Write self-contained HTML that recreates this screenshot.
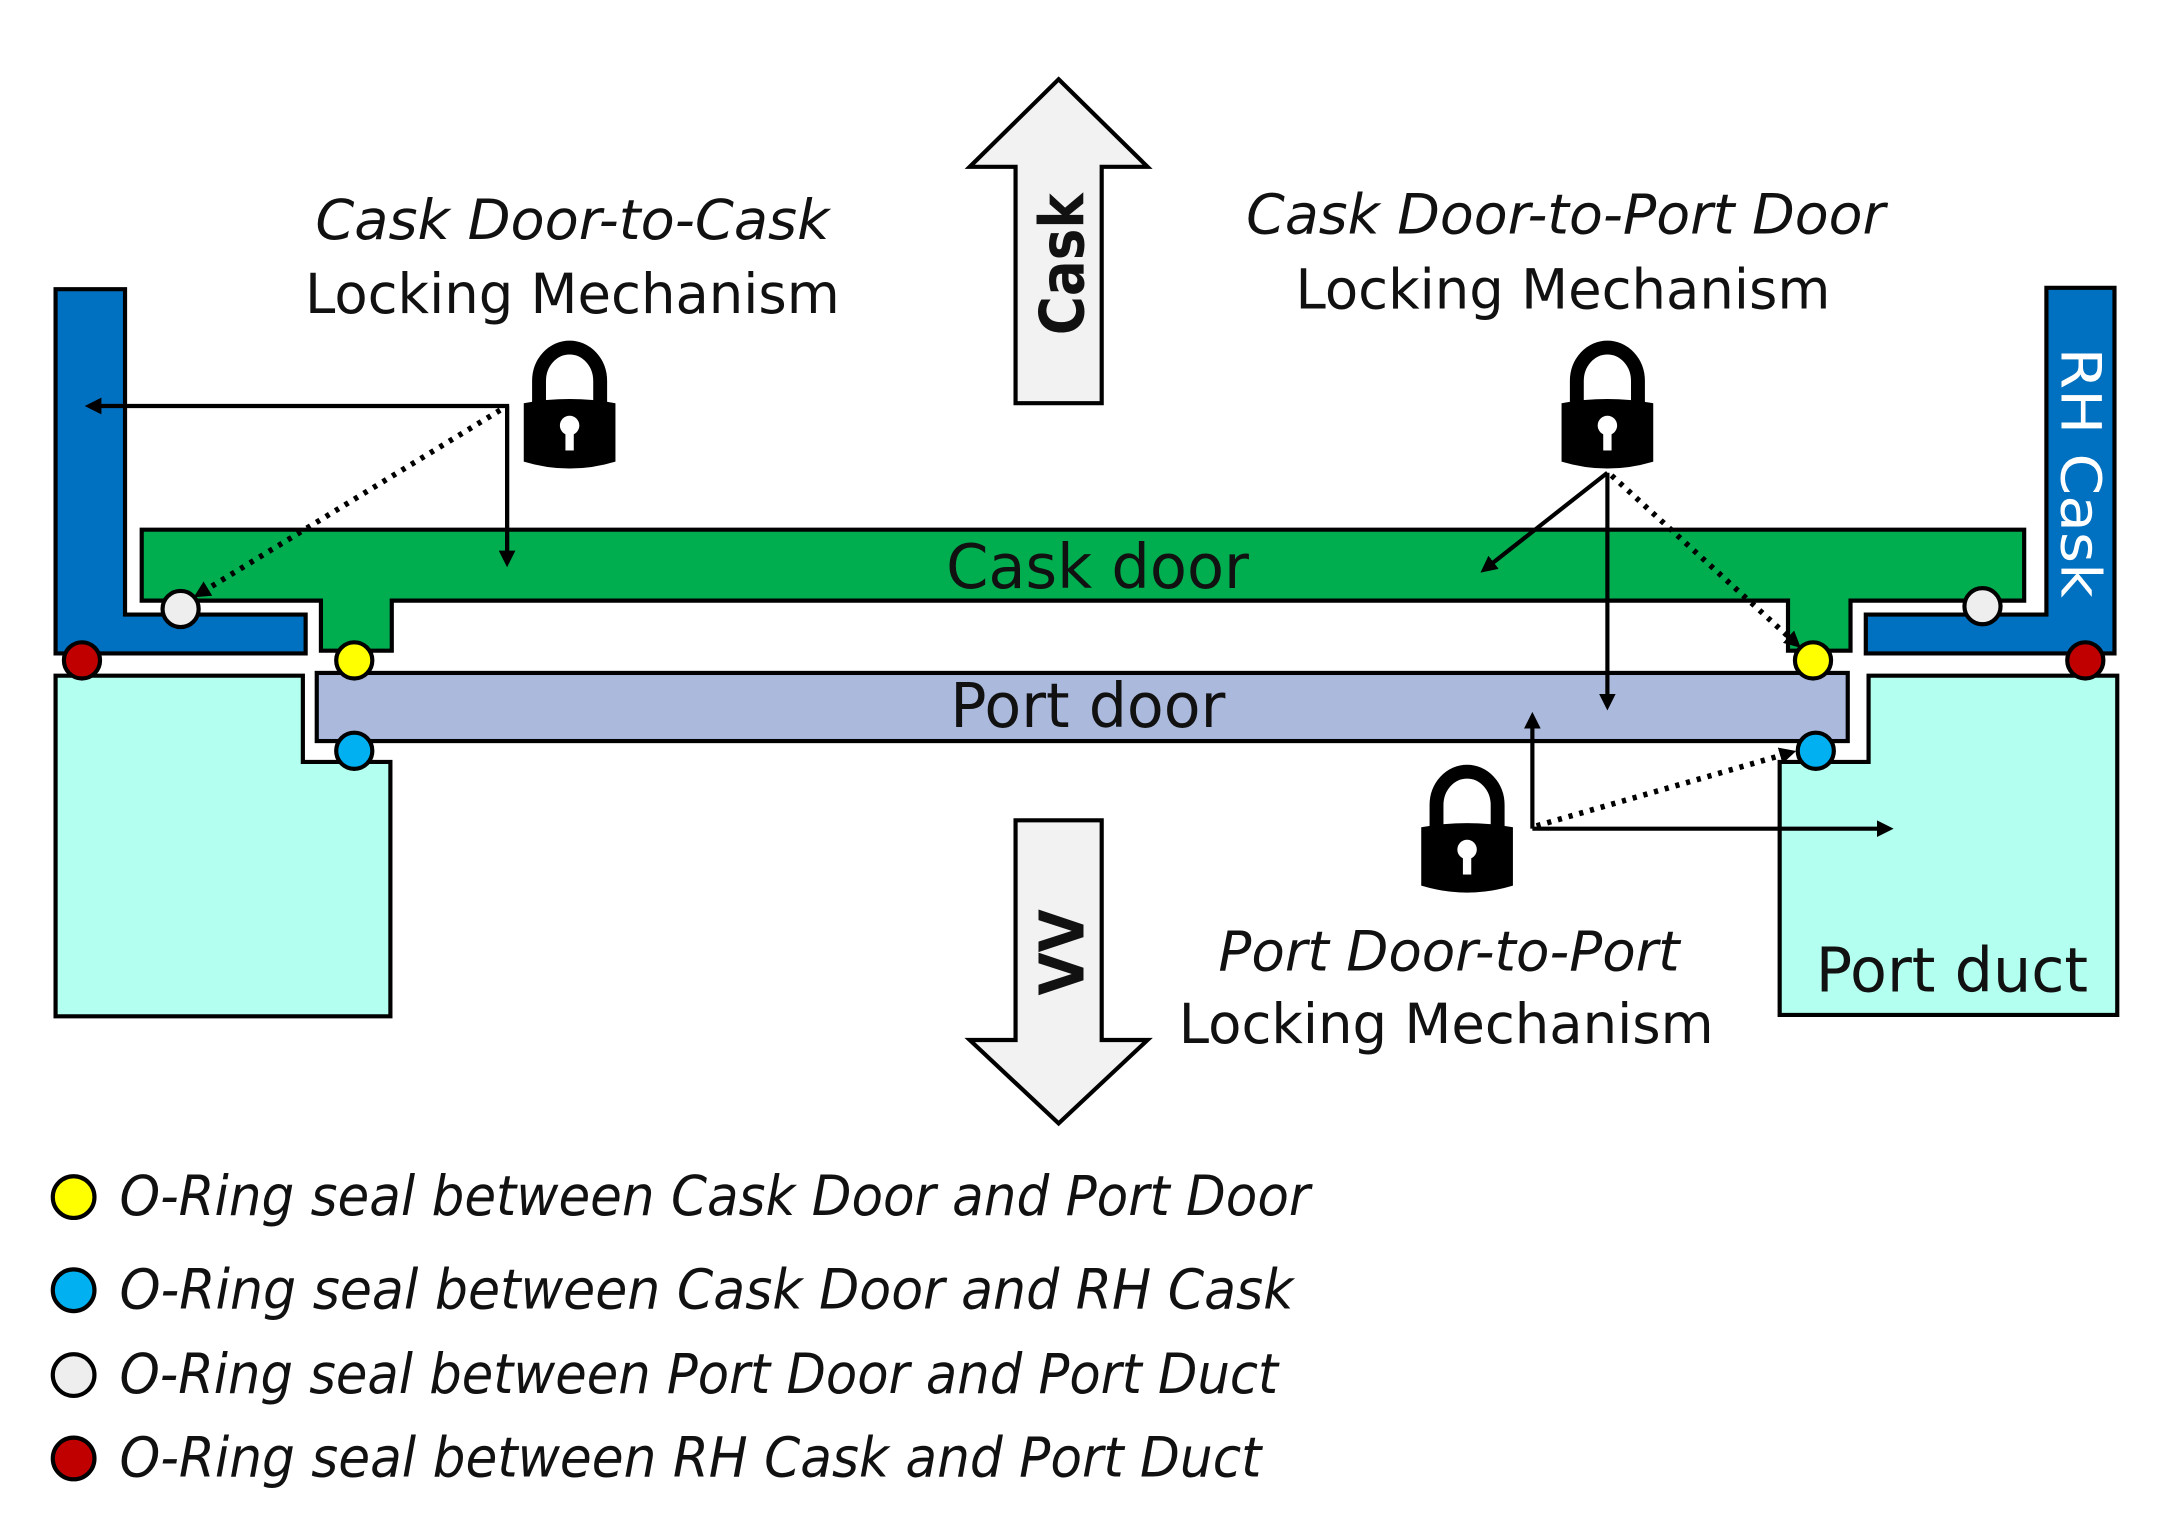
<!DOCTYPE html>
<html><head><meta charset="utf-8"><style>
html,body{margin:0;padding:0;background:#fff}
svg{display:block}
text{font-family:"DejaVu Sans","Liberation Sans",sans-serif;fill:#111}
</style></head><body>
<svg width="2177" height="1528" viewBox="0 0 1567 1099" preserveAspectRatio="none" xmlns="http://www.w3.org/2000/svg">
<defs>
<marker id="ah" markerWidth="12" markerHeight="12" refX="9" refY="6" orient="auto" markerUnits="userSpaceOnUse">
<path d="M0,0 L12,6 L0,12 Z" fill="#000"/></marker>
<g id="lock">
<path d="M-22,0 V-18 A22,24 0 0 1 22,-18 V0" fill="none" stroke="#000" stroke-width="10"/>
<path d="M-33,-2 Q0,-8 33,-2 V40 Q0,50 -33,40 Z" fill="#000"/>
<circle cx="0" cy="14" r="7" fill="#fff"/><rect x="-3" y="14" width="6" height="18" fill="#fff"/>
</g>
</defs>
<g stroke="#000" stroke-width="3">
<path d="M40,208 H90 V442 H220 V470 H40 Z" fill="#0070c0"/>
<path d="M1473,207 H1522 V470 H1343 V442 H1473 Z" fill="#0070c0"/>
<path d="M40,486 H218 V548 H281 V731 H40 Z" fill="#b3fff0"/>
<path d="M1345,486 H1524 V730 H1281 V548 H1345 Z" fill="#b3fff0"/>
<path d="M102,381 H1457 V432 H1332 V468 H1287 V432 H282 V468 H231 V432 H102 Z" fill="#00ad4f"/>
<rect x="228" y="484" width="1102" height="49" fill="#abb9dd"/>
<path d="M762,57 L826,120 H793 V290 H731 V120 H698 Z" fill="#f2f2f2"/>
<path d="M731,590 H793 V748 H826 L762,808 L698,748 H731 Z" fill="#f2f2f2"/>
</g>
<g stroke="#000" stroke-width="3">
<circle cx="130" cy="438" r="13" fill="#eeeeee"/>
<circle cx="1427" cy="436" r="13" fill="#eeeeee"/>
<circle cx="59" cy="475" r="13" fill="#c00000"/>
<circle cx="1501" cy="475" r="13" fill="#c00000"/>
<circle cx="255" cy="475" r="13" fill="#ffff00"/>
<circle cx="1305" cy="475" r="13" fill="#ffff00"/>
<circle cx="255" cy="540" r="13" fill="#00b0f0"/>
<circle cx="1307" cy="540" r="13" fill="#00b0f0"/>
</g>
<g stroke="#000" stroke-width="3" fill="none">
<path d="M365,405 V292 H64" marker-end="url(#ah)"/>
<path d="M365,292 V405" marker-end="url(#ah)"/>
<path d="M360,295 L142,428" stroke-width="4" stroke-dasharray="3,5" marker-end="url(#ah)"/>
<path d="M1157,340 L1068,410" marker-end="url(#ah)"/>
<path d="M1157,340 V508" marker-end="url(#ah)"/>
<path d="M1160,342 L1294,464" stroke-width="4" stroke-dasharray="3,5" marker-end="url(#ah)"/>
<path d="M1103,596 V515" marker-end="url(#ah)"/>
<path d="M1103,596 H1360" marker-end="url(#ah)"/>
<path d="M1106,594 L1290,541" stroke-width="4" stroke-dasharray="3,5" marker-end="url(#ah)"/>
</g>
<use href="#lock" x="410" y="292"/>
<use href="#lock" x="1157" y="292"/>
<use href="#lock" x="1056" y="597"/>
<text x="412" y="172" font-size="40" font-style="italic" text-anchor="middle" textLength="370" lengthAdjust="spacingAndGlyphs">Cask Door-to-Cask</text>
<text x="412" y="225" font-size="40" text-anchor="middle" textLength="385" lengthAdjust="spacingAndGlyphs">Locking Mechanism</text>
<text x="1127" y="168" font-size="40" font-style="italic" text-anchor="middle" textLength="460" lengthAdjust="spacingAndGlyphs">Cask Door-to-Port Door</text>
<text x="1125" y="222" font-size="40" text-anchor="middle" textLength="385" lengthAdjust="spacingAndGlyphs">Locking Mechanism</text>
<text x="1043" y="698" font-size="40" font-style="italic" text-anchor="middle" textLength="332" lengthAdjust="spacingAndGlyphs">Port Door-to-Port</text>
<text x="1041" y="750" font-size="40" text-anchor="middle" textLength="385" lengthAdjust="spacingAndGlyphs">Locking Mechanism</text>
<text x="790" y="423" font-size="44" text-anchor="middle" textLength="218" lengthAdjust="spacingAndGlyphs">Cask door</text>
<text x="783" y="523" font-size="44" text-anchor="middle" textLength="198" lengthAdjust="spacingAndGlyphs">Port door</text>
<text x="1405" y="713" font-size="44" text-anchor="middle" textLength="196" lengthAdjust="spacingAndGlyphs">Port duct</text>
<text transform="translate(1484,340) rotate(90)" font-size="40" text-anchor="middle" style="fill:#fff" textLength="180" lengthAdjust="spacingAndGlyphs">RH Cask</text>
<text transform="translate(780,190) rotate(-90)" font-size="44" font-weight="bold" text-anchor="middle" textLength="102" lengthAdjust="spacingAndGlyphs">Cask</text>
<text transform="translate(780,685) rotate(-90)" font-size="44" font-weight="bold" text-anchor="middle" textLength="62" lengthAdjust="spacingAndGlyphs">VV</text>
<g stroke="#000" stroke-width="3">
<circle cx="53" cy="861" r="15" fill="#ffff00"/>
<circle cx="53" cy="928" r="15" fill="#00b0f0"/>
<circle cx="53" cy="989" r="15" fill="#eeeeee"/>
<circle cx="53" cy="1049" r="15" fill="#c00000"/>
</g>
<g font-size="40" font-style="italic">
<text x="86" y="874" textLength="857" lengthAdjust="spacingAndGlyphs">O-Ring seal between Cask Door and Port Door</text>
<text x="86" y="941" textLength="845" lengthAdjust="spacingAndGlyphs">O-Ring seal between Cask Door and RH Cask</text>
<text x="86" y="1002" textLength="834" lengthAdjust="spacingAndGlyphs">O-Ring seal between Port Door and Port Duct</text>
<text x="86" y="1062" textLength="822" lengthAdjust="spacingAndGlyphs">O-Ring seal between RH Cask and Port Duct</text>
</g>
</svg>
</body></html>
